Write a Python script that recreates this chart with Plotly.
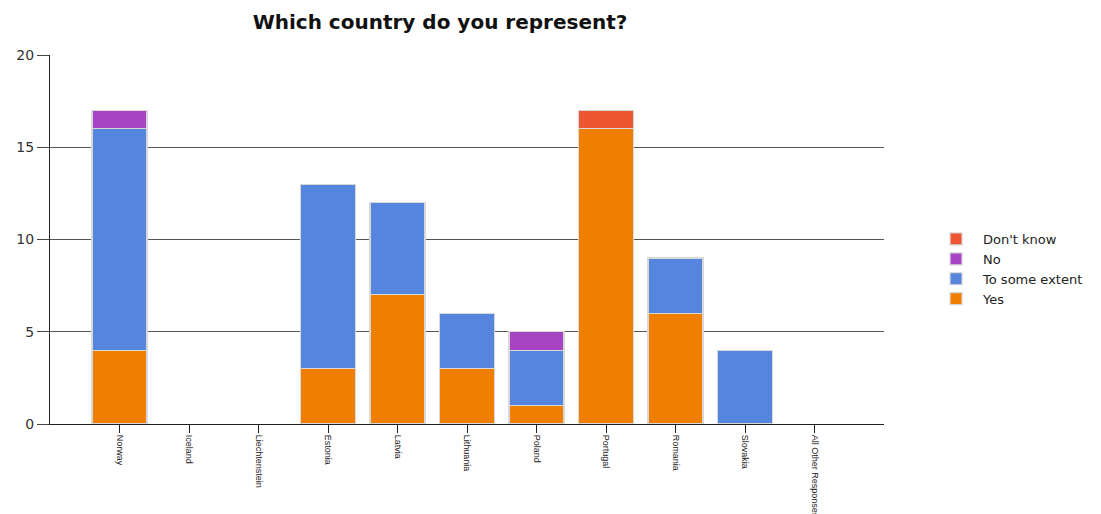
import plotly.graph_objects as go

categories = ["Norway", "Iceland", "Liechtenstein", "Estonia", "Latvia", "Lithuania",
              "Poland", "Portugal", "Romania", "Slovakia", "All Other Responses"]
yes = [4, 0, 0, 3, 7, 3, 1, 16, 6, 0, 0]
to_some_extent = [12, 0, 0, 10, 5, 3, 3, 0, 3, 4, 0]
no = [1, 0, 0, 0, 0, 0, 1, 0, 0, 0, 0]
dont_know = [0, 0, 0, 0, 0, 0, 0, 1, 0, 0, 0]

series = [
    ("Yes", yes, "#f07f00"),
    ("To some extent", to_some_extent, "#5585dc"),
    ("No", no, "#a744c4"),
    ("Don't know", dont_know, "#ee5533"),
]

W, H = 1093, 506

fig = go.Figure()
idx = list(range(len(categories)))
for name, vals, col in series:
    fig.add_trace(go.Bar(
        x=idx, y=[v if v else None for v in vals], name=name, width=0.79,
        marker=dict(color=col, line=dict(color="#d8d8d8", width=1.2)),
    ))

fig.update_layout(
    barmode="stack",
    width=W, height=H,
    margin=dict(l=42, r=217, t=47, b=90),
    paper_bgcolor="white", plot_bgcolor="white",
    title=dict(text="<b>Which country do you represent?</b>", x=432 / W, xref="container",
               xanchor="center", y=1 - 14 / H, yref="container", yanchor="middle",
               font=dict(family="DejaVu Sans", size=20, color="#111")),
    legend=dict(traceorder="reversed", x=1.054, y=0.42, xanchor="left", yanchor="middle",
                font=dict(family="DejaVu Sans", size=13, color="#222"),
                tracegroupgap=0, itemwidth=44),
    showlegend=True,
    font=dict(family="DejaVu Sans", color="#222"),
)
fig.update_xaxes(
    tickmode="array", tickvals=idx, ticktext=categories,
    range=[-1, 11], tickangle=90, automargin=False,
    ticks="outside", ticklen=8, tickcolor="#222", tickwidth=1,
    showline=True, linecolor="#222", linewidth=1, showgrid=False,
    tickfont=dict(family="Liberation Sans", size=9, color="#222"),
)
fig.update_yaxes(
    range=[0, 20], dtick=5, ticks="outside", ticklen=12, tickcolor="#444",
    automargin=False,
    showline=True, linecolor="#222", linewidth=1,
    showgrid=True, gridcolor="#555", gridwidth=1, zeroline=False,
    tickfont=dict(family="DejaVu Sans", size=14, color="#333"),
)
fig.write_html("out.html")
